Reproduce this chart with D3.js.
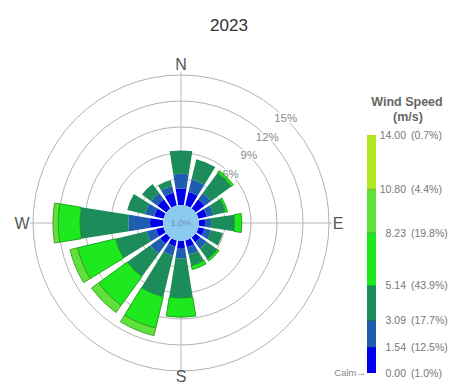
<!DOCTYPE html>
<html>
<head>
<meta charset="utf-8">
<script src="https://cdn.jsdelivr.net/npm/d3@7"></script>
<style>
  body { margin: 0; background: #fff; }
  svg { display: block; font-family: "Liberation Sans", Arial, sans-serif; }
</style>
</head>
<body>
<svg id="chart" width="454" height="385"></svg>
<script>
// directions, clockwise from north
var directions = ["N","NNE","NE","ENE","E","ESE","SE","SSE","S","SSW","SW","WSW","W","WNW","NW","NNW"];

// frequency (%) per speed class, one value per direction
var speed0 = [1.9, 1.6, 1.3, 1.0, 0.7, 0.7, 0.7, 0.8, 0.9, 0.7, 0.9, 0.9, 1.5, 1.1, 1.3, 1.5];   // 0.00 - 1.54
var speed1 = [1.7, 1.5, 0.9, 0.8, 0.7, 0.8, 0.9, 0.9, 1.1, 1.1, 1.4, 1.1, 2.5, 1.1, 0.9, 0.8];   // 1.54 - 3.09
var speed2 = [2.7, 2.4, 2.9, 1.4, 2.7, 1.4, 1.5, 1.3, 4.6, 4.9, 3.3, 3.7, 5.6, 2.1, 1.3, 0.7];   // 3.09 - 5.14
var speed3 = [0.0, 0.0, 0.3, 0.25, 0.85, 0.0, 0.25, 0.45, 2.2, 3.7, 4.1, 4.5, 2.5, 0.0, 0.0, 0.0]; // 5.14 - 8.23
var speed4 = [0, 0, 0, 0, 0, 0, 0, 0, 0, 0.9, 1.0, 0.9, 0.6, 0, 0, 0];                         // 8.23 - 10.80
var speed5 = [0, 0, 0, 0, 0, 0, 0, 0, 0, 0, 0, 0, 0, 0, 0, 0];                                 // 10.80 - 14.00

var calmPct = 1.0;
var ringTicks = [3, 6, 9, 12, 15];
var ringLabelTicks = [6, 9, 12, 15];

// legend
var legendSpeeds = [0.00, 1.54, 3.09, 5.14, 8.23, 10.80, 14.00];
var legendPcts = [1.0, 12.5, 17.7, 43.9, 19.8, 4.4, 0.7];

var svg = d3.select("#chart");
var cx = 181, cy = 223;

var keys = ["s0","s1","s2","s3","s4","s5"];
var classColors = ["#0000ec", "#1f5db2", "#1c8c5a", "#1ee81e", "#5ee23a", "#aee826"];
var color = d3.scaleOrdinal().domain(keys).range(classColors);

var rows = directions.map(function(d, i) {
  return { dir: d, s0: speed0[i], s1: speed1[i], s2: speed2[i], s3: speed3[i], s4: speed4[i], s5: speed5[i] };
});
var series = d3.stack().keys(keys)(rows);

var r = d3.scaleLinear().domain([0, 15]).range([18, 148]);
var step = 2 * Math.PI / directions.length;
var angle = d3.scaleBand()
  .domain(directions)
  .range([-step / 2, 2 * Math.PI - step / 2])
  .paddingInner(0.2)
  .paddingOuter(0.1);

var g = svg.append("g").attr("transform", "translate(" + cx + "," + cy + ")");

// rings
g.selectAll("circle.ring")
  .data(ringTicks)
  .enter().append("circle")
  .attr("class", "ring")
  .attr("r", function(d) { return r(d); })
  .attr("fill", "none")
  .attr("stroke", "#a8a8a8")
  .attr("stroke-width", 0.9);

// cross lines
var lineR = 151;
g.append("line").attr("x1", 0).attr("y1", -lineR).attr("x2", 0).attr("y2", lineR)
  .attr("stroke", "#b0b0b0").attr("stroke-width", 0.9);
g.append("line").attr("x1", -lineR).attr("y1", 0).attr("x2", lineR).attr("y2", 0)
  .attr("stroke", "#b0b0b0").attr("stroke-width", 0.9);

// ring labels along the NE diagonal
g.selectAll("text.ringlab")
  .data(ringLabelTicks)
  .enter().append("text")
  .attr("class", "ringlab")
  .attr("x", function(d) { return r(d) * Math.SQRT1_2; })
  .attr("y", function(d) { return -r(d) * Math.SQRT1_2; })
  .attr("dy", "0.35em")
  .attr("text-anchor", "middle")
  .attr("font-size", 11.5)
  .attr("fill", "#8a8a8a")
  .attr("stroke", "#fff")
  .attr("stroke-width", 3)
  .attr("paint-order", "stroke")
  .text(function(d) { return d + "%"; });

// bars
var arc = d3.arc()
  .innerRadius(function(d) { return r(d[0]); })
  .outerRadius(function(d) { return r(d[1]); })
  .startAngle(function(d) { return angle(d.data.dir); })
  .endAngle(function(d) { return angle(d.data.dir) + angle.bandwidth(); });

g.selectAll("g.layer")
  .data(series)
  .enter().append("g")
  .attr("class", "layer")
  .attr("fill", function(d) { return color(d.key); })
  .attr("stroke", function(d) { return d3.color(color(d.key)).darker(1.1); })
  .attr("stroke-width", function(d, i) { return i >= 3 ? 0.9 : 0; })
  .selectAll("path")
  .data(function(d) { return d.filter(function(v) { return v[1] - v[0] > 0; }); })
  .enter().append("path")
  .attr("d", arc);

// calm circle
g.append("circle").attr("r", r(0)).attr("fill", "#8ccbef");
g.append("text")
  .attr("text-anchor", "middle")
  .attr("dy", "0.35em")
  .attr("font-size", 9)
  .attr("fill", "#6f8fae")
  .text(calmPct.toFixed(1) + "%");

// compass labels
var compass = [
  { t: "N", a: 0, rr: 159 },
  { t: "E", a: 90, rr: 157 },
  { t: "S", a: 180, rr: 153 },
  { t: "W", a: 270, rr: 159 }
];
g.selectAll("text.compass")
  .data(compass)
  .enter().append("text")
  .attr("class", "compass")
  .attr("x", function(d) { return d.rr * Math.sin(d.a * Math.PI / 180); })
  .attr("y", function(d) { return -d.rr * Math.cos(d.a * Math.PI / 180); })
  .attr("dy", "0.36em")
  .attr("text-anchor", "middle")
  .attr("font-size", 16)
  .attr("fill", "#555")
  .text(function(d) { return d.t; });

// title
svg.append("text")
  .attr("x", 229).attr("y", 31)
  .attr("text-anchor", "middle")
  .attr("font-size", 17)
  .attr("fill", "#333")
  .text("2023");

// legend
var lx = 367, lw = 9;
var ly = d3.scaleLinear().domain([0, 14]).range([373, 135]);

svg.append("text").attr("x", 407).attr("y", 106).attr("text-anchor", "middle")
  .attr("font-size", 12.5).attr("font-weight", "bold").attr("fill", "#666").text("Wind Speed");
svg.append("text").attr("x", 408).attr("y", 121).attr("text-anchor", "middle")
  .attr("font-size", 12.5).attr("font-weight", "bold").attr("fill", "#666").text("(m/s)");

var segs = d3.pairs(legendSpeeds);
svg.selectAll("rect.seg")
  .data(segs)
  .enter().append("rect")
  .attr("class", "seg")
  .attr("x", lx)
  .attr("width", lw)
  .attr("y", function(d) { return ly(d[1]); })
  .attr("height", function(d) { return ly(d[0]) - ly(d[1]); })
  .attr("fill", function(d, i) { return classColors[i]; });

svg.selectAll("line.segtick")
  .data(legendSpeeds.slice(1, -1))
  .enter().append("line")
  .attr("class", "segtick")
  .attr("x1", lx).attr("x2", lx + lw)
  .attr("y1", function(d) { return ly(d); })
  .attr("y2", function(d) { return ly(d); })
  .attr("stroke", function(d, i) { return d3.color(classColors[i + 1]).darker(1); })
  .attr("stroke-width", 0.8);

var labs = svg.selectAll("g.leglab")
  .data(legendSpeeds)
  .enter().append("g")
  .attr("class", "leglab")
  .attr("transform", function(d) { return "translate(0," + ly(d) + ")"; });
labs.append("text")
  .attr("x", 406).attr("dy", "0.35em")
  .attr("text-anchor", "end")
  .attr("font-size", 10.5).attr("fill", "#777")
  .text(function(d) { return d.toFixed(2); });
labs.append("text")
  .attr("x", 411).attr("dy", "0.35em")
  .attr("font-size", 10.5).attr("fill", "#777")
  .text(function(d, i) { return "(" + legendPcts[i].toFixed(1) + "%)"; });

svg.append("text")
  .attr("x", 366).attr("y", ly(0)).attr("dy", "0.35em")
  .attr("text-anchor", "end")
  .attr("font-size", 9.5).attr("fill", "#888")
  .text("Calm\u2192");
</script>
</body>
</html>
